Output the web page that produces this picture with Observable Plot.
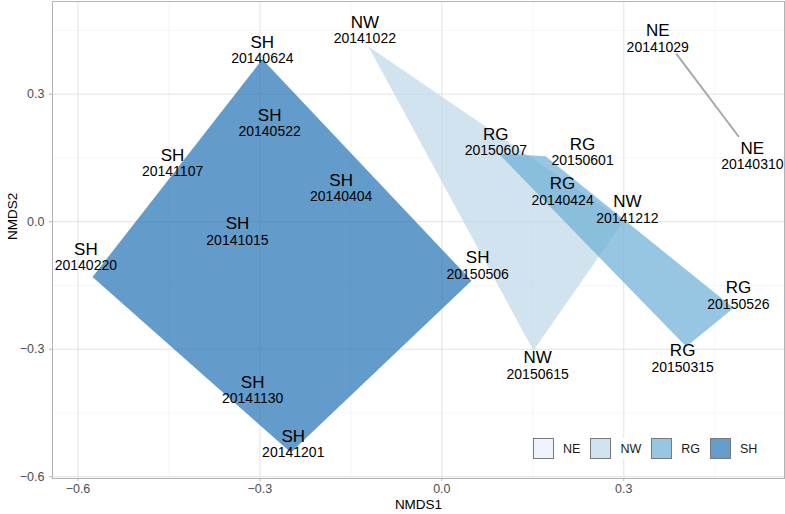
<!DOCTYPE html>
<html><head><meta charset="utf-8">
<script src="https://cdn.jsdelivr.net/npm/d3@7"></script>
<script src="https://cdn.jsdelivr.net/npm/@observablehq/plot@0.6"></script>
<style>
body{margin:0;background:#fff;font-family:"Liberation Sans",Arial,Helvetica,sans-serif;}
#wrap{position:relative;width:785px;height:514px;overflow:hidden;}
#legend{position:absolute;left:533px;top:438px;display:flex;align-items:center;font-size:12.5px;color:#1a1a1a;background:#fff;}
.key{width:21px;height:21px;box-sizing:border-box;border:1px solid #7a7a7a;margin-right:9px;}
.lab{margin-right:10px;}
</style></head>
<body><div id="wrap"></div>
<script>
// ---- data ----
const groups = ["SH","SH","SH","SH","SH","SH","SH","SH","SH","NW","NW","NW","RG","RG","RG","RG","RG","NE","NE"];
const dates  = ["20140624","20140522","20141107","20140404","20141015","20140220","20150506","20141130","20141201",
                "20141022","20141212","20150615",
                "20150607","20150601","20140424","20150526","20150315",
                "20141029","20140310"];
const nmds1 = [-0.296,-0.284,-0.439,-0.165,-0.337,-0.576,0.049,-0.311,-0.249,
               -0.121,0.300,0.151,
               0.093,0.171,0.199,0.481,0.403,
               0.387,0.489];
const nmds2 = [0.382,0.208,0.114,0.056,-0.047,-0.130,-0.139,-0.432,-0.543,
               0.412,0.002,-0.303,
               0.161,0.154,0.046,-0.203,-0.294,
               0.394,0.201];
// label (repelled) positions, data units
const labelX = [-0.296,-0.284,-0.444,-0.166,-0.337,-0.587,0.059,-0.312,-0.245,
                -0.127,0.306,0.158,
                0.089,0.232,0.199,0.489,0.397,
                0.356,0.512];
const labelY = [0.384,0.213,0.119,0.060,-0.043,-0.102,-0.123,-0.415,-0.542,
                0.431,0.009,-0.358,
                0.168,0.145,0.051,-0.193,-0.341,
                0.412,0.135];
const groupNames = ["NE","NW","RG","SH"];
const groupColors = ["#eff3ff","#bdd7e7","#6baed6","#2171b5"];
const xTicks = [-0.6,-0.3,0.0,0.3];
const yTicks = [-0.6,-0.3,0.0,0.3];
const xMinor = [-0.45,-0.15,0.15,0.45];
const yMinor = [-0.45,-0.15,0.15,0.45];

// ---- build ----
const pts = groups.map((g,i)=>({group:g,date:dates[i],x:nmds1[i],y:nmds2[i],lx:labelX[i],ly:labelY[i]}));
const colorOf = Object.fromEntries(groupNames.map((g,i)=>[g,groupColors[i]]));
const hullMarks = [];
for (const g of groupNames) {
  const gp = pts.filter(p=>p.group===g);
  if (gp.length >= 3) {
    const hull = d3.polygonHull(gp.map(p=>[p.x,p.y]));
    hullMarks.push(Plot.line(hull,{x:d=>d[0],y:d=>d[1],fill:colorOf[g],fillOpacity:0.7,stroke:"none",curve:"linear-closed"}));
  } else {
    hullMarks.push(Plot.line(gp,{x:"x",y:"y",stroke:"#a9a9a9",strokeWidth:2}));
  }
}
const fmt = d3.format(".1f");
const chart = Plot.plot({
  width:785, height:514,
  marginLeft:52, marginRight:1, marginTop:1, marginBottom:36,
  style:{fontFamily:'"Liberation Sans",Arial,Helvetica,sans-serif',background:"#fff"},
  x:{domain:[-0.642,0.565]},
  y:{domain:[-0.604,0.518]},
  marks:[
    Plot.ruleX(xMinor,{stroke:"#efefef",strokeWidth:0.6}),
    Plot.ruleY(yMinor,{stroke:"#efefef",strokeWidth:0.6}),
    Plot.ruleX(xTicks,{stroke:"#e2e2e2",strokeWidth:1}),
    Plot.ruleY(yTicks,{stroke:"#e2e2e2",strokeWidth:1}),
    ...hullMarks,
    Plot.text(pts,{x:"lx",y:"ly",text:"group",fontSize:17,dy:-16,fill:"#000"}),
    Plot.text(pts,{x:"lx",y:"ly",text:"date",fontSize:14,dy:0.5,fill:"#000"}),
    Plot.frame({stroke:"#b3b3b3"}),
    Plot.axisX({ticks:xTicks,tickFormat:fmt,tickSize:3,tickPadding:3,fontSize:12.5,stroke:"#b3b3b3",fill:"#4d4d4d",label:null}),
    Plot.axisY({ticks:yTicks,tickFormat:fmt,tickSize:3,tickPadding:5,fontSize:12.5,stroke:"#b3b3b3",fill:"#4d4d4d",label:null}),
    Plot.text(["NMDS1"],{frameAnchor:"bottom",dy:30,fontSize:13.5,fill:"#000",text:d=>d}),
    Plot.text(["NMDS2"],{frameAnchor:"left",dx:-40,rotate:-90,fontSize:13.5,fill:"#000",text:d=>d})
  ]
});
const wrap = document.getElementById("wrap");
wrap.appendChild(chart);
const lg = document.createElement("div");
lg.id = "legend";
groupNames.forEach((g,i)=>{
  const k = document.createElement("div");
  k.className="key";
  const c = d3.rgb(groupColors[i]);
  const a = 0.7;
  k.style.background = g==="NE" ? groupColors[i] : d3.rgb(c.r*a+255*(1-a),c.g*a+255*(1-a),c.b*a+255*(1-a)).formatHex();
  const t = document.createElement("span");
  t.className="lab"; t.textContent=g;
  lg.appendChild(k); lg.appendChild(t);
});
wrap.appendChild(lg);
</script></body></html>
